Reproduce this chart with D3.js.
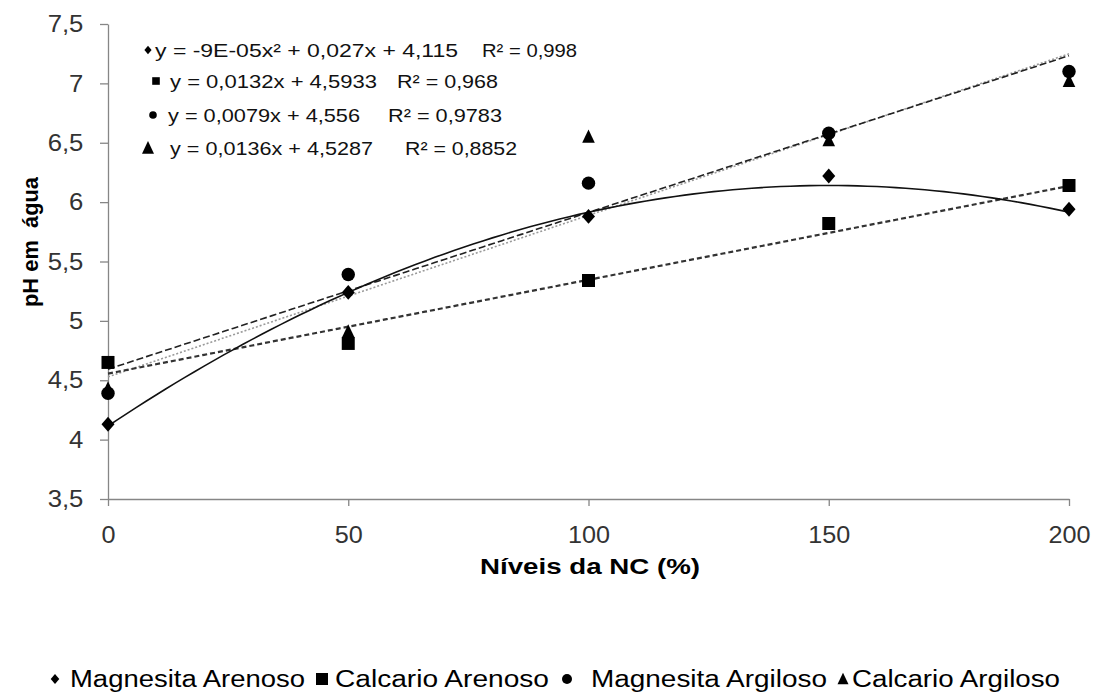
<!DOCTYPE html>
<html>
<head>
<meta charset="utf-8">
<script src="https://cdn.jsdelivr.net/npm/d3@7"></script>
<style>
  body { margin: 0; background: #fff; }
  svg { display: block; font-family: Arial, "Liberation Sans", sans-serif; }
  text { white-space: pre; }
</style>
</head>
<body>
<svg width="1096" height="696"></svg>
<script>
const niveis = [0, 50, 100, 150, 200];
const magnesitaArenoso = [4.13, 5.24, 5.88, 6.22, 5.94];
const calcarioArenoso = [4.65, 4.81, 5.34, 5.82, 6.14];
const magnesitaArgiloso = [4.39, 5.39, 6.16, 6.58, 7.10];
const calcarioArgiloso = [4.43, 4.91, 6.55, 6.52, 7.02];

const xTicks = [0, 50, 100, 150, 200];
const yTicks = [3.5, 4, 4.5, 5, 5.5, 6, 6.5, 7, 7.5];

// coeficientes das linhas de tendencia (a x² + b x + c)
const fitDiamond = [-0.00009, 0.027, 4.115];
const fitSquare = [0, 0.0079, 4.556];
const fitCircle = [0, 0.0132, 4.5933];
const fitTriangle = [0, 0.0136, 4.5287];

const eqTexts = [
  "y = -9E-05x² + 0,027x + 4,115",
  "y = 0,0132x + 4,5933",
  "y = 0,0079x + 4,556",
  "y = 0,0136x + 4,5287"
];
const r2Texts = ["R² = 0,998", "R² = 0,968", "R² = 0,9783", "R² = 0,8852"];

const legendNames = ["Magnesita Arenoso", "Calcario Arenoso", "Magnesita Argiloso", "Calcario Argiloso"];

const svg = d3.select("svg");

const x = d3.scaleLinear().domain([0, 200]).range([108, 1069]);
const y = d3.scaleLinear().domain([3.5, 7.5]).range([499, 24]);

const axisColor = "#868686";

// simbolos
function marker(type, s) {
  // s = meia largura
  if (type === "diamond") return `M0,${-s * 1.15}L${s},0L0,${s * 1.15}L${-s},0Z`;
  if (type === "square") return `M${-s},${-s}h${2 * s}v${2 * s}h${-2 * s}Z`;
  if (type === "circle") return `M${-s},0a${s},${s} 0 1,0 ${2 * s},0a${s},${s} 0 1,0 ${-2 * s},0Z`;
  return `M0,${-s * 1.15}L${s},${s * 0.95}L${-s},${s * 0.95}Z`;
}

// eixo y
const yAxis = svg.append("g")
  .attr("transform", `translate(${x(0)},0)`)
  .call(d3.axisLeft(y).tickValues(yTicks).tickSize(8).tickSizeOuter(0)
    .tickFormat(d => d3.format(".1~f")(d).replace(".", ",")));
yAxis.select(".domain").attr("stroke", axisColor).attr("stroke-width", 1.3);
yAxis.selectAll(".tick line").attr("stroke", axisColor).attr("stroke-width", 1.3);
yAxis.selectAll(".tick text")
  .attr("x", -23)
  .attr("transform", "scale(1.07,1)")
  .attr("fill", "#333")
  .style("font-size", "24px")
  .style("font-family", "Arial, 'Liberation Sans', sans-serif");

// eixo x
const xAxis = svg.append("g")
  .attr("transform", `translate(0,${y(3.5)})`)
  .call(d3.axisBottom(x).tickValues(xTicks).tickSize(7).tickSizeOuter(0));
xAxis.select(".domain").attr("stroke", axisColor).attr("stroke-width", 1.3);
xAxis.selectAll(".tick line").attr("stroke", axisColor).attr("stroke-width", 1.3);
xAxis.selectAll(".tick text")
  .attr("y", 0)
  .attr("dy", 0)
  .attr("transform", "translate(0,44) scale(1.05,1)")
  .attr("fill", "#333")
  .style("font-size", "24px")
  .style("font-family", "Arial, 'Liberation Sans', sans-serif");

// titulos dos eixos
svg.append("text")
  .attr("x", 590).attr("y", 574)
  .attr("text-anchor", "middle")
  .attr("font-weight", "bold")
  .attr("font-size", 22)
  .attr("textLength", 220)
  .attr("lengthAdjust", "spacingAndGlyphs")
  .text("Níveis da NC (%)");

svg.append("text")
  .attr("transform", "translate(38,242) rotate(-90)")
  .attr("text-anchor", "middle")
  .attr("font-weight", "bold")
  .attr("font-size", 22)
  .attr("textLength", 130)
  .attr("lengthAdjust", "spacingAndGlyphs")
  .text("pH em  água");

// linhas de tendencia
const fitX = d3.range(0, 201, 2);
const fitLine = coef => d3.line()
  .x(d => x(d))
  .y(d => y(coef[0] * d * d + coef[1] * d + coef[2]));

const fits = [
  { coef: fitTriangle, color: "#9a9a9a", width: 1.6, dash: "2,2" },
  { coef: fitSquare, color: "#333", width: 2.2, dash: "5,3" },
  { coef: fitCircle, color: "#222", width: 1.6, dash: "7,3" },
  { coef: fitDiamond, color: "#111", width: 1.6, dash: null }
];
svg.append("g").selectAll("path")
  .data(fits)
  .join("path")
  .attr("d", f => fitLine(f.coef)(fitX))
  .attr("fill", "none")
  .attr("stroke", f => f.color)
  .attr("stroke-width", f => f.width)
  .attr("stroke-dasharray", f => f.dash);

// pontos
const series = [
  { values: magnesitaArenoso, type: "diamond", s: 6.5 },
  { values: calcarioArenoso, type: "square", s: 6.5 },
  { values: magnesitaArgiloso, type: "circle", s: 6.7 },
  { values: calcarioArgiloso, type: "triangle", s: 6.3 }
];
series.forEach(sr => {
  svg.append("g").selectAll("path")
    .data(sr.values)
    .join("path")
    .attr("transform", (d, i) => `translate(${x(niveis[i])},${y(d)})`)
    .attr("d", marker(sr.type, sr.s))
    .attr("fill", "#000");
});

// equacoes
const eqRows = [
  { type: "diamond", mx: 148, s: 3.6, x0: 155, x1: 458, rx0: 482, rx1: 577, base: 57 },
  { type: "square", mx: 156, s: 3.8, x0: 170, x1: 377, rx0: 397, rx1: 498, base: 88 },
  { type: "circle", mx: 153, s: 3.8, x0: 168, x1: 360, rx0: 388, rx1: 502, base: 122 },
  { type: "triangle", mx: 148, s: 6, x0: 170, x1: 373, rx0: 405, rx1: 517, base: 155 }
];
const eqG = svg.append("g").attr("font-size", 19).attr("fill", "#111");
eqRows.forEach((r, i) => {
  eqG.append("path")
    .attr("transform", `translate(${r.mx},${r.base - 7})`)
    .attr("d", marker(r.type, r.s))
    .attr("fill", "#000");
  eqG.append("text")
    .attr("x", r.x0).attr("y", r.base)
    .attr("textLength", r.x1 - r.x0)
    .attr("lengthAdjust", "spacingAndGlyphs")
    .text(eqTexts[i]);
  eqG.append("text")
    .attr("x", r.rx0).attr("y", r.base)
    .attr("textLength", r.rx1 - r.rx0)
    .attr("lengthAdjust", "spacingAndGlyphs")
    .text(r2Texts[i]);
});

// legenda
const legendItems = [
  { type: "diamond", mx: 55, s: 4.3, x0: 70, x1: 305 },
  { type: "square", mx: 322, s: 6, x0: 335, x1: 549 },
  { type: "circle", mx: 567, s: 5, x0: 591, x1: 827 },
  { type: "triangle", mx: 843, s: 5.5, x0: 852, x1: 1060 }
];
const legG = svg.append("g").attr("font-size", 23).attr("fill", "#000");
legendItems.forEach((l, i) => {
  legG.append("path")
    .attr("transform", `translate(${l.mx},${679})`)
    .attr("d", marker(l.type, l.s))
    .attr("fill", "#000");
  legG.append("text")
    .attr("x", l.x0).attr("y", 687)
    .attr("textLength", l.x1 - l.x0)
    .attr("lengthAdjust", "spacingAndGlyphs")
    .text(legendNames[i]);
});
</script>
</body>
</html>
